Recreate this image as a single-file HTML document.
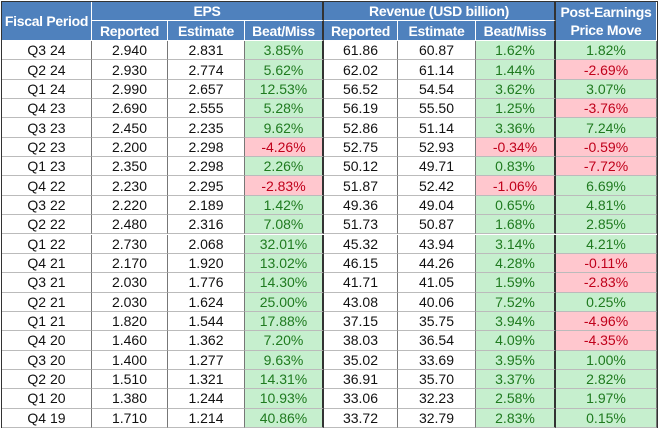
<!DOCTYPE html>
<html><head><meta charset="utf-8"><style>
body{margin:0;background:#fff;width:660px;height:430px;overflow:hidden;font-family:"Liberation Sans",sans-serif}
#t{position:absolute;left:1px;top:1px;width:657px;height:427px;border:1px solid #333;box-sizing:border-box}
.c{position:absolute;box-sizing:border-box;display:flex;align-items:center;justify-content:center;text-align:center;font-size:14px;color:#111;border-right:1px solid #777;border-bottom:1px solid #bbb;white-space:nowrap}
.h{background:#4F81BD;color:#fff;font-weight:bold;font-size:14px;letter-spacing:-0.3px;border-color:#fff;line-height:18px}
.g{background:#C6EFCE;color:#1f7a1f}
.r{background:#FFC7CE;color:#C0001a}
.thick{border-right:2px solid #333}
</style></head><body>
<div id="t"></div>
<script>
const periods=["Q3 24","Q2 24","Q1 24","Q4 23","Q3 23","Q2 23","Q1 23","Q4 22","Q3 22","Q2 22","Q1 22","Q4 21","Q3 21","Q2 21","Q1 21","Q4 20","Q3 20","Q2 20","Q1 20","Q4 19"];
const epsReported=["2.940","2.930","2.990","2.690","2.450","2.200","2.350","2.230","2.220","2.480","2.730","2.170","2.030","2.030","1.820","1.460","1.400","1.510","1.380","1.710"];
const epsEstimate=["2.831","2.774","2.657","2.555","2.235","2.298","2.298","2.295","2.189","2.316","2.068","1.920","1.776","1.624","1.544","1.362","1.277","1.321","1.244","1.214"];
const epsBeat=["3.85%","5.62%","12.53%","5.28%","9.62%","-4.26%","2.26%","-2.83%","1.42%","7.08%","32.01%","13.02%","14.30%","25.00%","17.88%","7.20%","9.63%","14.31%","10.93%","40.86%"];
const revReported=["61.86","62.02","56.52","56.19","52.86","52.75","50.12","51.87","49.36","51.73","45.32","46.15","41.71","43.08","37.15","38.03","35.02","36.91","33.06","33.72"];
const revEstimate=["60.87","61.14","54.54","55.50","51.14","52.93","49.71","52.42","49.04","50.87","43.94","44.26","41.05","40.06","35.75","36.54","33.69","35.70","32.23","32.79"];
const revBeat=["1.62%","1.44%","3.62%","1.25%","3.36%","-0.34%","0.83%","-1.06%","0.65%","1.68%","3.14%","4.28%","1.59%","7.52%","3.94%","4.09%","3.95%","3.37%","2.58%","2.83%"];
const priceMove=["1.82%","-2.69%","3.07%","-3.76%","7.24%","-0.59%","-7.72%","6.69%","4.81%","2.85%","4.21%","-0.11%","-2.83%","0.25%","-4.96%","-4.35%","1.00%","2.82%","1.97%","0.15%"];
const T=document.getElementById('t');
const xs=[0,90,166,243,322,396,474,554,655];
const H1=19,H2=20,rowH=(426-H1-H2)/20;
function cell(x,y,w,h,txt,cls,name){const d=document.createElement('div');d.className='c '+cls;d.style.left=x+'px';d.style.top=y+'px';d.style.width=w+'px';d.style.height=h+'px';d.innerHTML=txt;


T.appendChild(d);return d;}
cell(0,0,90,H1+H2,'Fiscal Period','h','header-fiscal-period');
cell(90,0,232,H1,'EPS','h thick','header-eps');
cell(322,0,232,H1,'Revenue (USD billion)','h thick','header-revenue');
cell(554,0,101,H1+H2,'Post-Earnings<br>Price Move','h','header-price-move');
const sub=['Reported','Estimate','Beat/Miss','Reported','Estimate','Beat/Miss'];
sub.forEach((s,i)=>cell(xs[i+1],H1,xs[i+2]-xs[i+1],H2,s,'h'+(i==2||i==5?' thick':''),'subheader-'+s.toLowerCase().replace('/','-')));
const cols=[periods,epsReported,epsEstimate,epsBeat,revReported,revEstimate,revBeat,priceMove];
const colNames=['period','eps-reported','eps-estimate','eps-beat-miss','rev-reported','rev-estimate','rev-beat-miss','price-move'];
periods.forEach((p,r)=>{
  const y=H1+H2+r*rowH;
  cols.forEach((arr,c)=>{
    const v=arr[r];let cls='';
    if(c==3||c==6||c==7)cls=v.startsWith('-')?'r':'g';
    if(c==3||c==6)cls+=' thick';
    cell(xs[c],y,xs[c+1]-xs[c],rowH,v,cls,colNames[c]+'-cell');
  });
});
</script>
</body></html>
